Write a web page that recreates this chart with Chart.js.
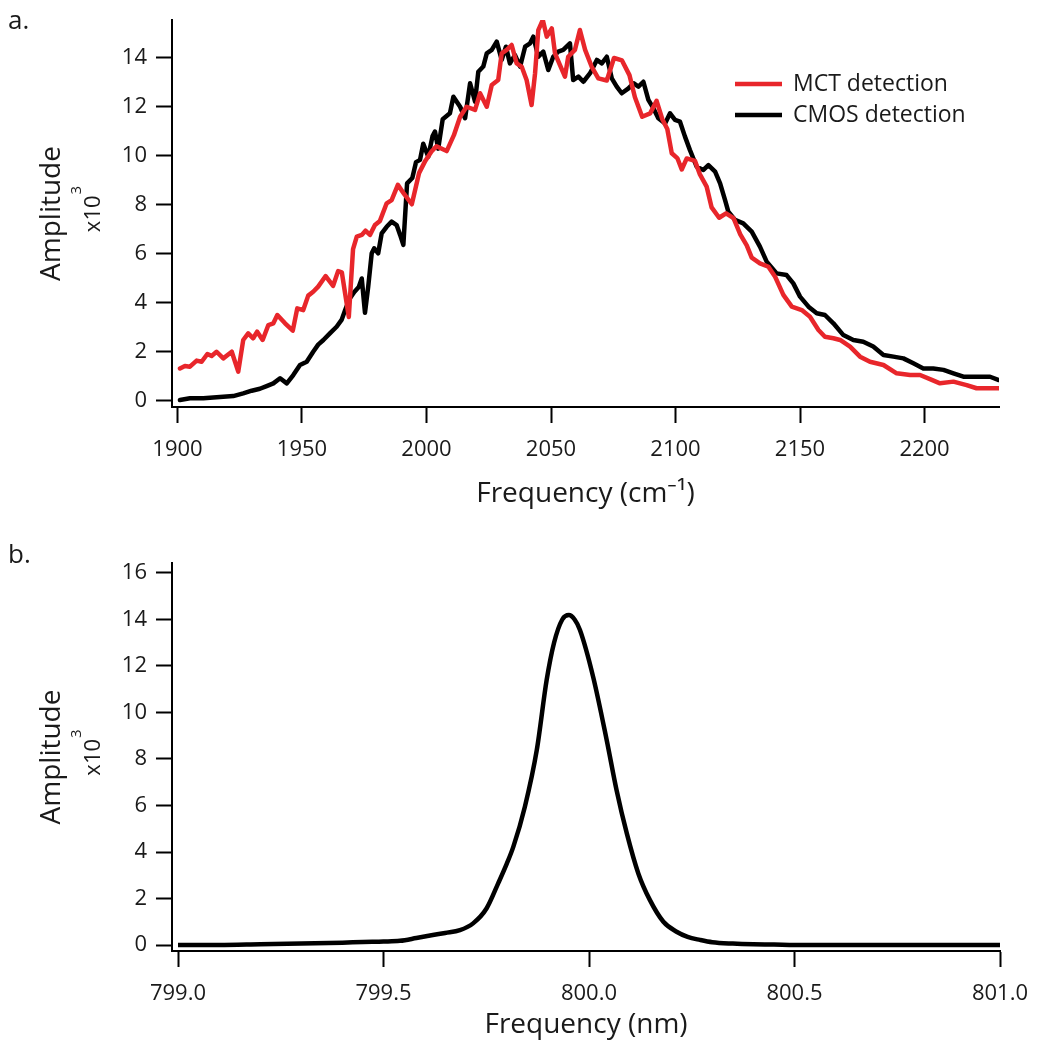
<!DOCTYPE html>
<html>
<head>
<meta charset="utf-8">
<script src="https://cdn.jsdelivr.net/npm/chart.js@4/dist/chart.umd.min.js"></script>
<style>
  html, body { margin: 0; padding: 0; background: #fff; }
  #wrap { position: relative; width: 1038px; height: 1044px; overflow: hidden; }
  canvas { position: absolute; left: 0; }
  .panel { position: absolute; left: 8px; font-family: "Open Sans", sans-serif; font-size: 26px; color: #1a1a1a; }
</style>
</head>
<body>
<div id="wrap">
  <canvas id="top" width="1038" height="520" style="top:0"></canvas>
  <canvas id="bot" width="1038" height="524" style="top:520px"></canvas>
  <div class="panel" style="top:1px">a.</div>
  <div class="panel" style="top:535px">b.</div>
</div>
<script>
// ---------------- data ----------------
const seriesNames = ["MCT detection", "CMOS detection"];

const mctFreq = [1901,1903,1905,1907.7,1909.7,1912,1913.7,1915.7,1918.4,1921.8,1924.4,1926.4,1928.4,1930.4,1932,1934.2,1936.5,1938.5,1940.1,1943.2,1946.3,1948.1,1950.5,1952.5,1954.5,1956.5,1959.5,1962.5,1964.5,1966,1967.3,1968.8,1970.5,1972,1974,1975.5,1977.3,1979.3,1981.3,1984,1986,1988.5,1991,1994.1,1997,1999.5,2002,2004,2008.1,2011,2013.5,2016.1,2019.5,2021.5,2024.2,2026.2,2028.8,2030.2,2032.2,2034.2,2036.2,2038.2,2040.2,2042.2,2043.6,2044.9,2046.7,2048.3,2050.3,2051.6,2053.6,2055.6,2056.9,2059.6,2061.6,2063.7,2066.3,2069,2072.4,2075.3,2078.5,2081.5,2083.7,2086.6,2089.8,2092.4,2094.7,2096.7,2098.5,2100.8,2102.5,2104.5,2107.8,2109.8,2112.5,2114.5,2117.5,2120.3,2123.3,2126,2128.6,2130.6,2133.9,2137.3,2140,2143.3,2146.7,2150.7,2154,2157.4,2160,2163.4,2166.1,2170.1,2174.1,2178.1,2183.5,2188.8,2194.2,2198.2,2202.9,2206.2,2211.6,2216.9,2220.9,2225,2229.6];
const mctAmp = [1.33,1.43,1.40,1.65,1.60,1.92,1.84,2.01,1.74,2.01,1.20,2.49,2.76,2.56,2.83,2.49,3.10,3.17,3.51,3.17,2.87,3.78,3.71,4.30,4.46,4.67,5.10,4.70,5.30,5.25,4.40,3.43,6.20,6.71,6.78,6.95,6.78,7.18,7.35,8.07,8.20,8.82,8.45,8.03,9.30,9.80,10.18,10.40,10.20,10.85,11.60,12.01,11.88,12.56,12.01,12.90,13.10,14.19,14.33,14.53,13.78,13.65,13.10,12.08,13.38,15.14,15.55,14.87,15.21,14.19,13.71,13.24,14.05,14.33,15.14,14.33,13.65,13.17,13.08,14.00,13.90,13.30,12.40,11.60,11.74,12.25,11.50,11.10,10.11,9.90,9.45,9.90,9.80,9.25,8.75,7.90,7.48,7.66,7.46,6.80,6.35,5.85,5.62,5.48,5.07,4.33,3.85,3.71,3.44,2.90,2.62,2.56,2.49,2.22,1.81,1.60,1.47,1.13,1.06,1.06,0.86,0.72,0.79,0.65,0.52,0.52,0.52];

const cmosFreq = [1901,1905,1910.4,1915.7,1922.4,1926.4,1929.8,1933.1,1935.8,1938.5,1941.2,1943.9,1946.5,1949.2,1951.9,1954.5,1956.5,1958.6,1961.2,1963.9,1965.9,1967.3,1969,1971,1972.8,1974,1975.3,1976.6,1978,1979,1980.6,1982,1984,1986,1988,1989.4,1990.7,1992.2,1994.3,1995.8,1997.4,1998.7,2000.7,2002.4,2003.4,2004.7,2006.5,2009.4,2010.8,2013.5,2015.5,2017.5,2019.5,2020.8,2022.8,2024.2,2026.2,2028.2,2030.2,2031.9,2033.5,2035.5,2037.6,2039.6,2041.6,2042.9,2044.9,2046.9,2048.9,2050.9,2052.9,2054.9,2057.6,2058.9,2061,2063,2065.7,2068.4,2070.4,2072.4,2074.4,2076.4,2078.4,2081.1,2083.1,2085.1,2087.1,2089.1,2091.1,2093.1,2095.8,2097.8,2099.8,2101.8,2103.8,2105.8,2108.5,2111.2,2113.2,2115.9,2117.9,2119.9,2121.2,2123.9,2127.2,2130.6,2133.9,2136.6,2140.6,2144.6,2147.3,2150,2153.4,2156.7,2160,2163.4,2167.4,2171.4,2175.4,2179.4,2183.5,2187.5,2191.5,2195.5,2199.5,2203.5,2207.6,2211.6,2215.6,2220.9,2226.3,2229.6];
const cmosAmp = [0.04,0.11,0.11,0.15,0.20,0.31,0.42,0.50,0.61,0.72,0.93,0.72,1.06,1.47,1.60,2.01,2.30,2.49,2.76,3.03,3.31,3.70,4.15,4.45,4.65,5.00,3.60,4.67,6.03,6.23,6.03,6.84,7.11,7.32,7.18,6.78,6.37,8.88,9.10,9.75,9.84,10.50,9.97,10.80,11.00,10.30,11.50,11.74,12.42,12.01,11.54,12.97,12.22,13.44,13.65,14.19,14.33,14.67,13.92,14.46,13.78,14.12,13.65,14.46,14.60,14.87,14.05,14.26,13.51,14.05,14.26,14.33,14.60,13.10,13.24,13.03,13.38,13.92,13.78,14.05,13.17,12.83,12.56,12.76,12.97,12.83,13.03,12.29,11.95,11.54,11.33,11.74,11.47,11.40,10.79,10.24,9.56,9.43,9.63,9.36,8.88,8.20,7.73,7.39,7.25,6.91,6.30,5.69,5.21,5.14,4.80,4.26,3.85,3.58,3.51,3.17,2.69,2.49,2.42,2.22,1.88,1.81,1.74,1.54,1.33,1.33,1.27,1.13,0.99,0.99,0.99,0.86];

const nmWave = [799.00,799.10,799.20,799.30,799.40,799.45,799.50,799.54,799.58,799.62,799.65,799.686,799.718,799.751,799.779,799.80,799.816,799.844,799.873,799.897,799.915,799.935,799.951,799.965,799.978,800.010,800.043,800.067,800.092,800.120,800.148,800.181,800.213,800.240,800.270,800.30,800.35,800.40,800.45,800.50,801.00];
const nmAmp = [0.00,0.00,0.03,0.06,0.10,0.13,0.15,0.18,0.30,0.43,0.52,0.64,0.93,1.58,2.65,3.50,4.23,5.95,8.39,11.40,13.00,14.00,14.19,14.00,13.55,11.54,8.82,6.67,4.80,3.08,1.94,1.00,0.57,0.35,0.22,0.12,0.06,0.03,0.02,0.00,0.00];

const topXTicks = [1900, 1950, 2000, 2050, 2100, 2150, 2200];
const topYTicks = [0, 2, 4, 6, 8, 10, 12, 14];
const botXTicks = [799.0, 799.5, 800.0, 800.5, 801.0];
const botXTickLabels = ["799.0", "799.5", "800.0", "800.5", "801.0"];
const botYTicks = [0, 2, 4, 6, 8, 10, 12, 14, 16];

const yTitle = "Amplitude";
const yScaleBase = "x10";
const yScaleExp = "3";
const topXTitle = "Frequency (cm\u207B\u00B9)";
const botXTitle = "Frequency (nm)";

// ---------------- styling ----------------
const FONT = '"Open Sans", "Noto Sans", sans-serif';
const TXT = '#1a1a1a';
const RED = '#e8262b';

function pts(xs, ys) { return xs.map((x, i) => ({ x: x, y: ys[i] })); }

function axisStyle() {
  return {
    grid: { display: true, drawOnChartArea: false, drawTicks: true, tickLength: 16, tickWidth: 2, tickColor: '#000' },
    border: { display: true, color: '#000', width: 2 },
  };
}

// legend (top chart) and the "x10^3" multiplier beside the y title
const extrasPlugin = {
  id: 'extras',
  afterDraw(chart) {
    const ctx = chart.ctx;
    const area = chart.chartArea;
    ctx.save();
    const cy = (area.top + area.bottom) / 2 - 4;
    ctx.translate(92, cy);
    ctx.rotate(-Math.PI / 2);
    ctx.fillStyle = TXT;
    ctx.textBaseline = 'alphabetic';
    ctx.textAlign = 'left';
    ctx.font = '22px ' + FONT;
    const w1 = ctx.measureText(yScaleBase).width;
    ctx.font = '15px ' + FONT;
    const w2 = ctx.measureText(yScaleExp).width;
    const x0 = -(w1 + w2) / 2;
    ctx.font = '22px ' + FONT;
    ctx.fillText(yScaleBase, x0, 8);
    ctx.font = '15px ' + FONT;
    ctx.fillText(yScaleExp, x0 + w1 + 1, -11);
    ctx.restore();

    if (chart.canvas.id !== 'top') return;
    ctx.save();
    chart.data.datasets.forEach((ds, i) => {
      const y = 84 + i * 31;
      ctx.strokeStyle = ds.borderColor;
      ctx.lineWidth = 4.5;
      ctx.beginPath();
      ctx.moveTo(735, y);
      ctx.lineTo(782, y);
      ctx.stroke();
      ctx.fillStyle = TXT;
      ctx.font = '23px ' + FONT;
      ctx.textBaseline = 'middle';
      ctx.textAlign = 'left';
      ctx.fillText(ds.label, 793, y);
    });
    ctx.restore();
  }
};

function makeChart(id, datasets, cfg) {
  const canvas = document.getElementById(id);
  const H = canvas.height;
  return new Chart(canvas, {
    type: 'line',
    data: { datasets: datasets },
    options: {
      responsive: false,
      animation: false,
      layout: { padding: { left: 0, right: cfg.padRight, top: cfg.padTop, bottom: 0 } },
      plugins: { legend: { display: false }, tooltip: { enabled: false } },
      elements: { point: { radius: 0 } },
      scales: {
        x: Object.assign(axisStyle(), {
          type: 'linear',
          min: cfg.xMin, max: cfg.xMax,
          afterBuildTicks: (ax) => { ax.ticks = cfg.xTicks.map(v => ({ value: v })); },
          afterFit: (ax) => { ax.height = H - cfg.areaBottom; ax.paddingLeft = 0; ax.paddingRight = 0; },
          ticks: {
            autoSkip: false, maxRotation: 0, minRotation: 0,
            color: TXT, padding: 14,
            font: { family: FONT, size: 22 },
            callback: cfg.xLabel
          },
          title: {
            display: true, text: cfg.xTitle, color: TXT,
            font: { family: FONT, size: 28 },
            padding: { top: 0, bottom: cfg.xTitlePad }
          }
        }),
        y: Object.assign(axisStyle(), {
          type: 'linear',
          min: cfg.yMin, max: cfg.yMax,
          afterBuildTicks: (ax) => { ax.ticks = cfg.yTicks.map(v => ({ value: v })); },
          afterFit: (ax) => { ax.width = 172; ax.paddingTop = 0; ax.paddingBottom = 0; },
          ticks: {
            autoSkip: false, color: TXT, padding: 9,
            font: { family: FONT, size: 22 },
            callback: (v) => String(v)
          },
          title: {
            display: true, text: yTitle, color: TXT,
            font: { family: FONT, size: 28 },
            padding: { top: 35, bottom: 0 }
          }
        })
      }
    },
    plugins: [extrasPlugin]
  });
}

makeChart('top', [
  { label: seriesNames[0], data: pts(mctFreq, mctAmp), borderColor: RED, borderWidth: 4.5, tension: 0, borderJoinStyle: 'round', borderCapStyle: 'round' },
  { label: seriesNames[1], data: pts(cmosFreq, cmosAmp), borderColor: '#000', borderWidth: 4.5, tension: 0, borderJoinStyle: 'round', borderCapStyle: 'round' }
], {
  padRight: 39, padTop: 20, areaBottom: 407,
  xMin: 1897.8, xMax: 2229.9, yMin: -0.245, yMax: 15.55,
  xTicks: topXTicks, yTicks: topYTicks,
  xLabel: (v) => String(v),
  xTitle: topXTitle, xTitlePad: 9
});

makeChart('bot', [
  { label: 'Spectrum', data: pts(nmWave, nmAmp), borderColor: '#000', borderWidth: 4.5, cubicInterpolationMode: 'monotone', borderJoinStyle: 'round' }
], {
  padRight: 38, padTop: 43, areaBottom: 431,
  xMin: 798.9854, xMax: 801.0, yMin: -0.258, yMax: 16.43,
  xTicks: botXTicks, yTicks: botYTicks,
  xLabel: (v) => { const i = botXTicks.findIndex(t => Math.abs(t - v) < 1e-6); return i >= 0 ? botXTickLabels[i] : ''; },
  xTitle: botXTitle, xTitlePad: 2
});
</script>
</body>
</html>
